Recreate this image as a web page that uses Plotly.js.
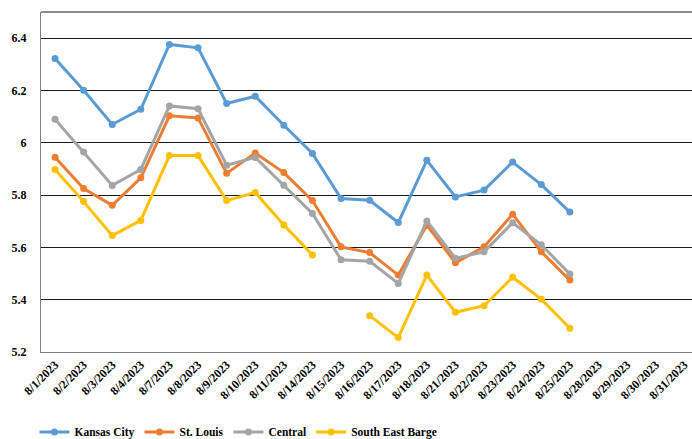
<!DOCTYPE html>
<html>
<head>
<meta charset="utf-8">
<script src="https://cdn.plot.ly/plotly-3.0.1.min.js"></script>
<style>
html,body{margin:0;padding:0;background:#fff;}
#chart{width:692px;height:439px;}
</style>
</head>
<body>
<div id="chart"></div>
<script>
const dates = ["8/1/2023","8/2/2023","8/3/2023","8/4/2023","8/7/2023","8/8/2023","8/9/2023","8/10/2023","8/11/2023","8/14/2023","8/15/2023","8/16/2023","8/17/2023","8/18/2023","8/21/2023","8/22/2023","8/23/2023","8/24/2023","8/25/2023","8/28/2023","8/29/2023","8/30/2023","8/31/2023"];
const kansasCity = [6.322,6.201,6.070,6.128,6.376,6.363,6.150,6.178,6.067,5.959,5.787,5.780,5.695,5.933,5.793,5.819,5.926,5.840,5.735,null,null,null,null];
const stLouis = [5.945,5.825,5.761,5.866,6.103,6.095,5.883,5.961,5.886,5.779,5.602,5.580,5.494,5.685,5.541,5.602,5.727,5.583,5.475,null,null,null,null];
const central = [6.090,5.965,5.837,5.898,6.141,6.130,5.914,5.944,5.838,5.730,5.553,5.547,5.462,5.701,5.558,5.583,5.694,5.610,5.498,null,null,null,null];
const southEastBarge = [5.898,5.775,5.645,5.703,5.951,5.951,5.779,5.810,5.686,5.571,null,5.339,5.255,5.494,5.352,5.377,5.486,5.402,5.291,null,null,null,null];
const seriesNames = ["Kansas City","St. Louis","Central","South East Barge"];
const seriesColors = ["#5B9BD5","#ED7D31","#A5A5A5","#FFC000"];
const seriesValues = [kansasCity, stLouis, central, southEastBarge];

const traces = seriesValues.map((vals, i) => ({
  type: "scatter",
  mode: "lines+markers",
  x: dates,
  y: vals,
  name: seriesNames[i],
  connectgaps: false,
  line: {color: seriesColors[i], width: 3},
  marker: {color: seriesColors[i], size: 7}
}));

const layout = {
  width: 692, height: 439,
  margin: {l: 41, r: 0, t: 12, b: 87, autoexpand: false},
  paper_bgcolor: "#fff", plot_bgcolor: "#fff",
  font: {family: "Liberation Serif", size: 12, color: "#000", weight: "bold"},
  showlegend: true,
  legend: {orientation: "h", x: -0.01, xanchor: "left", y: -0.235, yanchor: "middle",
           font: {family: "Liberation Serif", size: 11.5, color: "#000", weight: "bold"}},
  xaxis: {
    type: "category",
    categoryorder: "array", categoryarray: dates,
    range: [-0.49, 22.27],
    tickangle: -45,
    automargin: false,
    showgrid: false,
    showline: true, linecolor: "#7f7f7f", linewidth: 1,
    ticks: "", zeroline: false,
    tickfont: {family: "Liberation Serif", size: 12, color: "#000", weight: "bold"}
  },
  yaxis: {
    range: [5.2, 6.5],
    automargin: false,
    tickvals: [5.2,5.4,5.6,5.8,6.0,6.2,6.4],
    ticktext: ["5.2","5.4","5.6","5.8","6","6.2","6.4"],
    showgrid: true, gridcolor: "#1a1a1a", gridwidth: 1,
    showline: true, linecolor: "#7f7f7f", linewidth: 1,
    ticks: "", zeroline: false,
    ticklabelstandoff: 11,
    tickfont: {family: "Liberation Serif", size: 12, color: "#000", weight: "bold"}
  },
  shapes: [
    {type: "line", xref: "paper", yref: "paper", x0: 0, x1: 1, y0: 1, y1: 1, line: {color: "#1a1a1a", width: 1}}
  ]
};

Plotly.newPlot("chart", traces, layout, {displayModeBar: false, staticPlot: true});
</script>
</body>
</html>
